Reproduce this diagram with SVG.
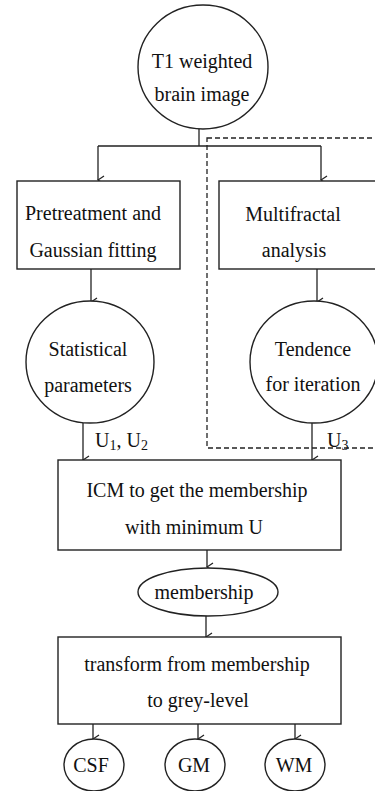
<svg xmlns="http://www.w3.org/2000/svg" width="375" height="791" viewBox="0 0 375 791">
<style>
.s{fill:#fff;stroke:#222;stroke-width:1.4}
.t{font-family:"Liberation Serif","Times New Roman",serif;font-size:20px;fill:#111;text-anchor:middle}
.c{fill:none;stroke:#222;stroke-width:1.3}
.sub{font-size:14px}
</style>
<defs>
<marker id="ah" viewBox="0 0 10 10" refX="5" refY="9" markerWidth="10" markerHeight="10" markerUnits="userSpaceOnUse" orient="auto-start-reverse">
<path d="M1,3 L5,9 L9,3" fill="none" stroke="#222" stroke-width="1.3"/>
</marker>
</defs>
<rect width="375" height="791" fill="#fff"/>
<rect x="207" y="138" width="172" height="310" fill="none" stroke="#222" stroke-width="1.3" stroke-dasharray="5,3"/>
<g id="connectors">
<path class="c" d="M199,129 V146 M98,146 H321"/>
<path class="c" d="M98,146 V180" marker-end="url(#ah)"/>
<path class="c" d="M321,146 V180" marker-end="url(#ah)"/>
<path class="c" d="M91,269 V302" marker-end="url(#ah)"/>
<path class="c" d="M317,269 V302" marker-end="url(#ah)"/>
<path class="c" d="M83,423 V460" marker-end="url(#ah)"/>
<path class="c" d="M312,423 V460" marker-end="url(#ah)"/>
<path class="c" d="M207,550 V567" marker-end="url(#ah)"/>
<path class="c" d="M206,616 V637" marker-end="url(#ah)"/>
<path class="c" d="M93,724 V739" marker-end="url(#ah)"/>
<path class="c" d="M198,724 V739" marker-end="url(#ah)"/>
<path class="c" d="M295,724 V739" marker-end="url(#ah)"/>
<text class="t" x="95" y="447" style="text-anchor:start">U<tspan class="sub" dy="3">1</tspan><tspan dy="-3">, U</tspan><tspan class="sub" dy="3">2</tspan></text>
<text class="t" x="327" y="447" style="text-anchor:start">U<tspan class="sub" dy="3">3</tspan></text>
</g>
<g id="n_t1">
<ellipse class="s" cx="203" cy="67" rx="65" ry="62"/>
<text class="t" x="202" y="68">T1 weighted</text>
<text class="t" x="202" y="101">brain image</text>
</g>
<g id="n_pre">
<rect class="s" x="17" y="181" width="163" height="88"/>
<text class="t" x="93" y="220">Pretreatment and</text>
<text class="t" x="93" y="257">Gaussian fitting</text>
</g>
<g id="n_multi">
<rect class="s" x="219" y="181" width="160" height="88"/>
<text class="t" x="293" y="221">Multifractal</text>
<text class="t" x="294" y="257">analysis</text>
</g>
<g id="n_stat">
<ellipse class="s" cx="90" cy="362" rx="64" ry="61"/>
<text class="t" x="88" y="356">Statistical</text>
<text class="t" x="88" y="392">parameters</text>
</g>
<g id="n_tend">
<ellipse class="s" cx="314" cy="362" rx="64" ry="61"/>
<text class="t" x="313" y="356">Tendence</text>
<text class="t" x="313" y="391">for iteration</text>
</g>
<g id="n_icm">
<rect class="s" x="58" y="460" width="283" height="90"/>
<text class="t" x="197" y="497">ICM to get the membership</text>
<text class="t" x="194" y="534">with minimum U</text>
</g>
<g id="n_mem">
<ellipse class="s" cx="208" cy="592" rx="70" ry="24"/>
<text class="t" x="204" y="599">membership</text>
</g>
<g id="n_trans">
<rect class="s" x="58" y="637" width="283" height="87"/>
<text class="t" x="197" y="671">transform from membership</text>
<text class="t" x="198" y="707">to grey-level</text>
</g>
<g id="n_csf">
<ellipse class="s" cx="94" cy="765" rx="30" ry="26"/>
<text class="t" x="91" y="772">CSF</text>
</g>
<g id="n_gm">
<ellipse class="s" cx="195" cy="765" rx="30" ry="26"/>
<text class="t" x="194" y="772">GM</text>
</g>
<g id="n_wm">
<ellipse class="s" cx="295" cy="765" rx="30" ry="26"/>
<text class="t" x="294" y="772">WM</text>
</g>
</svg>
